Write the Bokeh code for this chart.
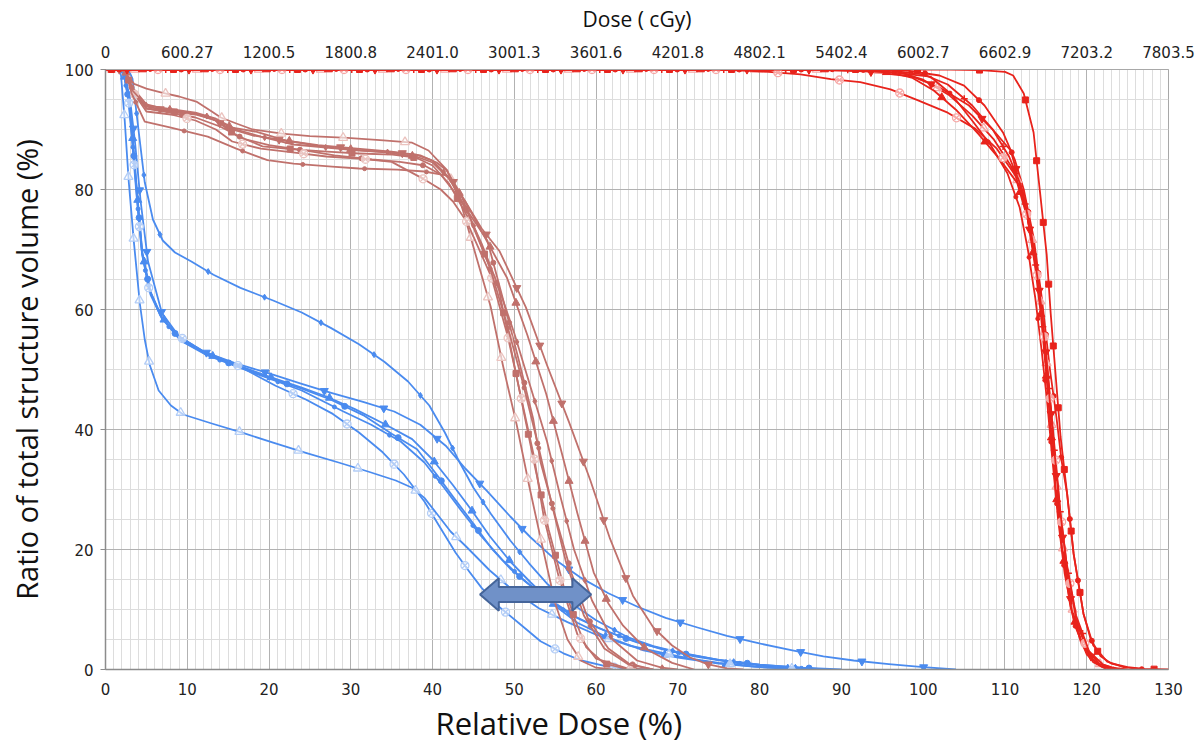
import numpy as np
from bokeh.plotting import figure
from bokeh.models import LinearAxis, Range1d, SingleIntervalTicker, FixedTicker, Title
from bokeh.embed import file_html
from bokeh.resources import INLINE

# ---------------- data ----------------
rel_ticks = [0, 10, 20, 30, 40, 50, 60, 70, 80, 90, 100, 110, 120, 130]
dose_labels = ["0", "600.27", "1200.5", "1800.8", "2401.0", "3001.3", "3601.6",
               "4201.8", "4802.1", "5402.4", "6002.7", "6602.9", "7203.2", "7803.5"]

# blue curves
b1_x = [0, 2.8, 3.3, 3.9, 4.8, 5.8, 7, 8.5, 10.5, 13.2, 16.5, 20.5, 24, 27.6, 31, 34.1, 37, 39.6, 41.5, 43.2, 45, 47.1, 49.5, 51.8, 54, 57, 60, 64, 67, 70, 75, 80, 85, 88]
b1_y = [100, 100, 98.5, 91.5, 81.2, 75, 71.5, 69.5, 68, 65.8, 63.6, 61.5, 59.5, 56.9, 54.2, 51.3, 48, 44, 39.5, 34.8, 30.3, 26, 21.5, 17.7, 14.3, 11, 8.2, 5.3, 3.9, 2.9, 1.6, 0.8, 0.3, 0]
b2_x = [0, 2.0, 2.4, 3, 3.6, 4.3, 5.2, 6.9, 9, 12, 16, 20.1, 24, 27.6, 31.5, 35.3, 38.5, 41.6, 44, 46.7, 49.5, 52, 55, 58, 61.5, 65, 68.5, 72.4, 76, 80.1, 84, 87.8, 91.5, 95.8, 100, 104]
b2_y = [100, 100, 99, 95, 88, 78, 68, 59.4, 55.5, 53, 51, 49.3, 47.6, 46.1, 44.6, 43, 40.8, 37.3, 33.5, 29.7, 25.5, 22, 18.3, 15.4, 12.7, 10.5, 8.6, 7, 5.6, 4.3, 3.2, 2.2, 1.5, 0.9, 0.4, 0]
b3_x = [0, 1.9, 2.3, 2.9, 3.3, 3.9, 4.5, 5.5, 6.9, 9.2, 12.4, 16, 20, 24, 27, 30.5, 34, 37.5, 40, 42.5, 44.8, 47, 49.5, 52, 55, 57.7, 61, 65.8, 70, 75, 80, 85]
b3_y = [100, 100, 99, 95, 89, 79, 69.5, 63, 58.7, 55, 52.6, 50.8, 48.8, 47, 45.5, 43.4, 41, 38.4, 35, 30.7, 26.5, 22.2, 18, 14.5, 10.6, 7.8, 5.6, 3.2, 2, 1, 0.4, 0]
b4_x = [0, 1.9, 2.3, 2.9, 3.3, 3.9, 4.5, 5.5, 6.9, 9.2, 12.4, 16, 20, 24, 29.1, 32.5, 36.1, 39, 41.3, 43.5, 45.9, 48.5, 51.3, 54, 57, 60.5, 64, 68, 72, 77, 82, 88]
b4_y = [100, 100, 99, 94, 88, 78, 69, 62.5, 58.5, 54.8, 52.4, 50.5, 48.5, 46.5, 43, 40.8, 38, 34.5, 30.5, 26.5, 22.3, 18.3, 14.7, 11.8, 9, 6.8, 5, 3.4, 2.2, 1.1, 0.4, 0]
b5_x = [0, 1.9, 2.3, 2.9, 3.3, 3.9, 4.5, 5.5, 6.9, 9.2, 12.4, 16, 20, 24, 27.5, 31.5, 35, 38.1, 40.5, 42.6, 45, 47.2, 49.5, 51.8, 54.5, 57.5, 61, 65, 70, 75, 80, 85, 90]
b5_y = [100, 100, 99, 94.5, 88.5, 78.5, 69.3, 62.8, 58.6, 54.9, 52.5, 50.6, 48.6, 46.8, 45, 42.4, 39.3, 36.7, 32.5, 28.6, 24.3, 20.2, 16.8, 14.2, 11.5, 8.8, 6.5, 4.5, 2.8, 1.6, 0.8, 0.3, 0]
b6_x = [0, 1.9, 2.3, 2.8, 3.2, 3.8, 4.4, 5.3, 6.7, 9, 12, 16, 20.8, 24.5, 27.8, 31, 33.9, 36.5, 39, 41, 42.8, 44.5, 46, 48, 50.5, 53.2, 56, 58.2, 61, 64, 66]
b6_y = [100, 100, 99, 95, 89, 79, 70, 63.5, 59, 55.5, 53, 50.8, 47.3, 45, 42.6, 39.5, 36.2, 32.5, 28, 23.5, 19.5, 16.3, 13.6, 10.6, 7.8, 4.7, 2.7, 1.5, 0.6, 0.1, 0]
b7_x = [0, 1.6, 1.9, 2.35, 2.85, 3.46, 4.2, 4.8, 5.4, 6.5, 8, 9.5, 13, 16.9, 20.5, 24.5, 28.5, 32.1, 35.5, 37.5, 39, 40.5, 42.2, 44.1, 47, 50, 53, 56.5, 60, 64, 68, 71.5, 75, 79.3, 83, 87]
b7_y = [100, 100, 99, 91.5, 81.2, 71.4, 61, 55, 50.8, 46.5, 44, 42.5, 41, 39.4, 37.8, 36.1, 34.5, 33, 31.5, 30.3, 28.6, 26, 23, 20.5, 16.5, 13, 10.2, 7.9, 5.8, 4, 2.8, 1.8, 1.1, 0.5, 0.2, 0]

# brown curves
r1_x = [0, 1.5, 2.2, 3.5, 5, 7, 9, 11.2, 13, 14.1, 16, 18, 21.6, 25, 29.6, 34, 37.5, 39.5, 41.8, 43.5, 45, 47.1, 48.6, 50.3, 51.8, 53.4, 55, 56.5, 58.1, 60, 62]
r1_y = [100, 100, 99.8, 97.6, 96.8, 96.1, 95.5, 94.6, 93, 92, 91, 90, 89.3, 88.9, 88.6, 88.2, 87.8, 86.5, 83.2, 77.5, 70.4, 60.5, 50.7, 40.7, 30.7, 20.7, 11, 5, 1.5, 0.3, 0]
r2_x = [0, 1.8, 2.5, 3.5, 5, 7.5, 10, 12.5, 15.1, 18, 22.8, 26, 30.8, 35, 38.5, 40.5, 41.7, 44, 46, 48.2, 51.4, 54, 56.7, 59.3, 61.7, 64.5, 67, 69.3, 71.5, 73.6, 76, 78]
r2_y = [100, 100, 99.5, 96, 93.8, 93.2, 92.8, 92.2, 90.2, 89, 88, 87.4, 86.8, 86.3, 85.7, 84.5, 83.2, 78, 73.5, 69.7, 60.4, 50.7, 41.2, 31.5, 21.8, 12.3, 7, 4, 2, 0.9, 0.2, 0]
r3_x = [0, 1.8, 2.5, 3.3, 5, 8, 11.1, 13.5, 15.5, 18.5, 22, 26.3, 30, 34.2, 38, 40, 42, 44, 46, 49.1, 51.6, 53.9, 55.8, 57.7, 59.7, 61.5, 63.3, 66, 69.3, 72]
r3_y = [100, 100, 99.5, 97, 94.2, 93.2, 92.6, 91.5, 90.3, 89.6, 88.2, 87.2, 86.7, 86.2, 85.5, 84.5, 81.8, 78, 73, 65.3, 55.7, 45.9, 36.1, 26.1, 16.2, 11, 7.3, 3.5, 1.1, 0]
r4_x = [0, 1.8, 2.5, 3.3, 5, 8, 11, 13.5, 16, 19.2, 23, 27.1, 31, 35.1, 38, 40, 42, 45, 48.1, 49.6, 51.1, 52.6, 54.2, 56, 57.5, 58.8, 61, 64]
r4_y = [100, 100, 99.5, 96.5, 93.5, 93, 92.5, 91.5, 89, 87.2, 86.7, 86.3, 86, 85.8, 85.3, 84, 81, 73.7, 63.4, 53.4, 43.3, 33.3, 23.3, 14, 8, 3.7, 1, 0]
r5_x = [0, 1.8, 2.5, 3.2, 5, 8, 11, 14, 17, 20, 24.9, 28, 32.6, 36, 39, 41, 43, 46.7, 48.5, 50.5, 52.3, 53.2, 55.2, 57, 59, 61.5, 64, 67]
r5_y = [100, 100, 99.5, 97, 93.5, 92.8, 92, 90.5, 88.4, 87.4, 86.4, 85.7, 85, 84.6, 84, 82.5, 79, 71.5, 62.3, 51.8, 41.8, 34.6, 24.6, 16, 8.5, 3.5, 1, 0]
r6_x = [0, 1.8, 2.5, 3.5, 5, 8, 11, 13.5, 15.5, 19, 23.4, 27, 31.4, 35, 38.7, 41, 42.5, 44.2, 47.2, 49.2, 50.8, 52.4, 53.6, 55.4, 57.7, 60, 63.8, 66]
r6_y = [100, 100, 99.5, 96, 93, 92.5, 91.5, 90, 88, 86.8, 86.1, 85.5, 85.1, 84.6, 81.9, 80, 78, 74.6, 65.4, 55.5, 45.5, 35.5, 25.4, 15.6, 5.9, 1.8, 0.2, 0]
r7_x = [0, 1.8, 2.5, 3.2, 4.8, 8, 12.5, 16, 19.8, 23, 27.7, 31, 35.7, 39, 41.8, 43.5, 45, 47, 49, 51, 52.8, 54.5, 56.3, 58.5, 61, 64, 67]
r7_y = [100, 100, 99.5, 96, 91.3, 90.3, 88.8, 86.8, 84.9, 84.3, 83.8, 83.5, 83.3, 83, 82.3, 79, 74, 67, 58, 48, 38, 28, 18, 9, 3.5, 0.8, 0]
r8_x = [0, 1.8, 2.5, 3.3, 5, 8, 11, 13.5, 16, 19, 23, 27, 31, 35, 38, 40, 42, 44, 46, 48, 50, 52, 54, 55.6, 57.3, 59.5, 62, 65, 68, 70]
r8_y = [100, 100, 99.5, 96.5, 94, 93.4, 92.8, 91.8, 90, 88.8, 87.5, 87, 86.5, 86.2, 85.8, 84.8, 82, 77, 71, 64, 56, 47, 38, 29, 20, 11.5, 5, 1.5, 0.3, 0]

# red curves
d1_x = [0, 20, 40, 60, 80, 95, 103.3, 107, 110, 111, 112.3, 113.5, 114.3, 115.1, 115.6, 116.2, 116.8, 117.6, 118.4, 119.6, 120.5, 121.7, 123, 125, 127, 130]
d1_y = [100, 100, 100, 100, 100, 100, 100, 99.9, 99.6, 99, 96, 89.5, 79.4, 69.2, 59.2, 49, 38.8, 29.3, 19.3, 9.3, 5, 2.2, 1, 0.4, 0.1, 0]
d2_x = [0, 30, 60, 90, 98, 102, 105, 107.5, 109.8, 111.2, 112.3, 113.5, 114.5, 115.5, 116.3, 116.9, 117.6, 118.4, 119.6, 120.8, 122.5, 124.5, 127]
d2_y = [100, 100, 100, 100, 99.8, 99, 97.3, 94, 89.4, 85, 80, 72, 62, 50, 42, 35, 29.3, 19.2, 9.3, 4, 1.3, 0.4, 0]
d3_x = [0, 30, 60, 85, 93, 98.7, 102, 105.6, 108.5, 110.7, 111.8, 112.8, 113.7, 114.5, 115.2, 115.8, 116.4, 117.2, 118.2, 119.5, 121, 123, 125]
d3_y = [100, 100, 100, 100, 99.7, 98.8, 97, 94, 90, 86.5, 81.2, 75, 68, 60, 50, 40, 30, 20, 10, 4, 1.3, 0.3, 0]
d4_x = [0, 30, 60, 88, 96.4, 100, 103.1, 106, 108.6, 110.7, 112.2, 113.6, 114.5, 115.2, 115.8, 116.4, 117.2, 118.4, 120.1, 121.5, 123]
d4_y = [100, 100, 100, 100, 99.8, 98.3, 95.8, 92.3, 88.4, 84, 79.6, 69.7, 59.4, 49.4, 39.2, 29, 19, 9, 3.2, 1, 0]
d5_x = [0, 30, 60, 90, 96, 98.7, 101.3, 104, 106.8, 109.5, 111.5, 112.8, 113.7, 114.4, 115, 115.6, 116.2, 117, 118, 119.3, 120.8, 122.5]
d5_y = [100, 100, 100, 100, 99.5, 98.6, 96.5, 93.3, 89.2, 84.8, 81.1, 75, 67, 59, 50, 40, 30, 20, 10.5, 4.5, 1.2, 0]
d6_x = [0, 30, 60, 88, 95, 100.9, 103.5, 106.1, 108.3, 110.3, 111.8, 112.8, 113.7, 114.5, 115.2, 115.8, 116.5, 117.3, 118.5, 120, 121.8, 123.5]
d6_y = [100, 100, 100, 100, 99.7, 98.8, 95.8, 91.3, 87.3, 82.7, 77, 70, 62, 53, 44, 35, 25, 16, 7.5, 2.5, 0.5, 0]
d7_x = [0, 30, 60, 75, 80, 85, 88.7, 92.3, 96, 99.3, 103, 106.4, 109, 111.3, 112.5, 113.5, 114.3, 115, 115.6, 116.2, 116.8, 117.6, 118.7, 120, 121.5, 123]
d7_y = [100, 100, 100, 100, 99.7, 99.2, 98.4, 97.9, 96.7, 94.9, 92.8, 90.1, 86.8, 82.3, 77, 70, 62, 53, 44, 35, 26, 17, 8.5, 3.5, 1, 0]
d8_x = [0, 30, 60, 90, 96, 100, 103, 106, 108.5, 110.5, 112, 113.2, 114.1, 114.8, 115.4, 116, 116.7, 117.5, 118.7, 120.3, 122, 124]
d8_y = [100, 100, 100, 100, 99.8, 99.2, 97.5, 94, 90, 85.5, 80.5, 73, 64, 55, 46, 37, 27, 18, 9, 3, 0.8, 0]

# annotation arrow (relative dose range, volume level)
arrow_x_from = 45.8
arrow_x_to = 59.4
arrow_y_at = 12.5

# ---------------- styling ----------------
BLUE, BLUE_L = "#4a8bef", "#b3cdf6"
BROWN, BROWN_L = "#c0716c", "#ebc3bf"
RED, RED_L = "#e8231c", "#f7a8a6"

blue_set = [(b1_x, b1_y, "diamond", 6, False), (b2_x, b2_y, "inverted_triangle", 8, False),
            (b3_x, b3_y, "triangle", 8, False), (b4_x, b4_y, "circle", 4, False),
            (b5_x, b5_y, "circle", 6, False), (b6_x, b6_y, "circle_x", 8, True),
            (b7_x, b7_y, "triangle", 9, True)]
brown_set = [(r1_x, r1_y, "triangle", 9, True), (r2_x, r2_y, "inverted_triangle", 8, False),
             (r3_x, r3_y, "triangle", 8, False), (r4_x, r4_y, "square", 6, False),
             (r5_x, r5_y, "circle", 5, False), (r6_x, r6_y, "circle_x", 8, True),
             (r7_x, r7_y, "circle", 4, False), (r8_x, r8_y, "diamond", 6, False)]
red_set = [(d1_x, d1_y, "square", 6, False), (d2_x, d2_y, "circle", 5, False),
           (d3_x, d3_y, "inverted_triangle", 8, False), (d4_x, d4_y, "triangle", 9, True),
           (d5_x, d5_y, "triangle", 8, False), (d6_x, d6_y, "circle", 4, False),
           (d7_x, d7_y, "circle_x", 8, True), (d8_x, d8_y, "cross", 7, False)]

PX_X, PX_Y = 8.177, 6.0   # screen pixels per data unit (for marker spacing)


def marker_points(xs, ys, step, phase):
    xs = np.asarray(xs, float)
    ys = np.asarray(ys, float)
    seg = np.hypot(np.diff(xs) * PX_X, np.diff(ys) * PX_Y)
    cum = np.concatenate([[0.0], np.cumsum(seg)])
    t = np.arange(phase, cum[-1], step)
    return np.interp(t, cum, xs), np.interp(t, cum, ys)


p = figure(width=1203, height=746, x_range=Range1d(0, 130), y_range=Range1d(0, 100),
           output_backend="svg", toolbar_location=None,
           min_border_left=105, min_border_right=35, min_border_top=69, min_border_bottom=77)
p.background_fill_color = "white"
p.border_fill_color = "white"
p.outline_line_color = "#a8a8a8"

p.xaxis.ticker = SingleIntervalTicker(interval=10, num_minor_ticks=10)
p.yaxis.ticker = SingleIntervalTicker(interval=20, num_minor_ticks=4)
for g in (p.xgrid, p.ygrid):
    g.grid_line_color = "#b2b2b2"
    g.grid_line_width = 1
    g.minor_grid_line_color = "#dddddd"
    g.minor_grid_line_width = 1

TICK_FONT = "DejaVu Sans"
TITLE_FONT = "Open Sans"

for ax in (p.xaxis[0], p.yaxis[0]):
    ax.axis_line_color = "#8c8c8c"
    ax.axis_line_width = 1.5
    ax.major_tick_line_color = "#8c8c8c"
    ax.minor_tick_line_color = None
    ax.major_label_text_font = TICK_FONT
    ax.major_label_text_font_size = "15px"
    ax.major_label_text_color = "#222222"
    ax.axis_label_text_font = TITLE_FONT
    ax.axis_label_text_font_style = "normal"
    ax.axis_label_text_color = "#111111"

p.xaxis.major_tick_in = 0
p.xaxis.major_tick_out = 0
p.xaxis.major_label_standoff = 9

p.yaxis.axis_label = "Ratio of total structure volume (%)"
p.yaxis.axis_label_text_font_size = "29px"
p.yaxis.major_tick_in = 0
p.yaxis.major_tick_out = 5
p.yaxis.major_label_standoff = 7
p.yaxis.axis_label_standoff = 16

top_axis = LinearAxis(ticker=FixedTicker(ticks=rel_ticks),
                      major_label_overrides={t: s for t, s in zip(rel_ticks, dose_labels)},
                      axis_label="Dose ( cGy)")
top_axis.axis_line_color = "#a8a8a8"
top_axis.major_tick_in = 0
top_axis.major_tick_out = 0
top_axis.minor_tick_line_color = None
top_axis.major_label_text_font = TICK_FONT
top_axis.major_label_text_font_size = "15px"
top_axis.major_label_text_color = "#222222"
top_axis.major_label_standoff = 12
top_axis.axis_label_text_font = TITLE_FONT
top_axis.axis_label_text_font_style = "normal"
top_axis.axis_label_text_font_size = "21px"
top_axis.axis_label_text_color = "#111111"
top_axis.axis_label_standoff = 10
p.add_layout(top_axis, "above")

# bottom axis title, placed left of centre as in the original figure
p.add_layout(Title(text="Relative Dose (%)", align="left", offset=330, standoff=5,
                   text_font=TITLE_FONT, text_font_size="31px", text_font_style="normal",
                   text_color="#111111"), "below")


def draw_group(group, color, light, step=62.0):
    n = len(group)
    for i, (xs, ys, mk, sz, hollow) in enumerate(group):
        p.line(xs, ys, line_color=color, line_width=1.8, line_join="round")
        mx, my = marker_points(xs, ys, step, 6 + step * i / n)
        if hollow:
            p.scatter(mx, my, marker=mk, size=sz, fill_color="white", fill_alpha=0.6,
                      line_color=light, line_width=1.3)
        elif mk == "cross":
            p.scatter(mx, my, marker=mk, size=sz, line_color=color, line_width=1.5)
        else:
            p.scatter(mx, my, marker=mk, size=sz, fill_color=color, line_color=color)


draw_group(blue_set, BLUE, BLUE_L)
draw_group(brown_set, BROWN, BROWN_L)
draw_group(red_set, RED, RED_L)

# double-headed arrow built from the annotation values
head_len, head_half, shaft_half = 2.3, 2.7, 1.25
ax0, ax1, ay = arrow_x_from, arrow_x_to, arrow_y_at
arrow_px = [ax0, ax0 + head_len, ax0 + head_len, ax1 - head_len, ax1 - head_len, ax1,
            ax1 - head_len, ax1 - head_len, ax0 + head_len, ax0 + head_len]
arrow_py = [ay, ay + head_half, ay + shaft_half, ay + shaft_half, ay + head_half, ay,
            ay - head_half, ay - shaft_half, ay - shaft_half, ay - head_half]
p.patch(arrow_px, arrow_py, fill_color="#7091c8", line_color="#45659a", line_width=2)

open("out.html", "w").write(file_html(p, INLINE))
